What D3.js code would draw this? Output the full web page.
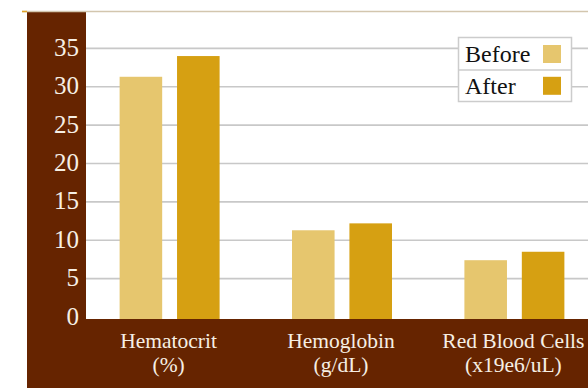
<!DOCTYPE html>
<html>
<head>
<meta charset="utf-8">
<script src="https://cdn.jsdelivr.net/npm/d3@7"></script>
<style>
  html, body { margin: 0; padding: 0; background: #fff; }
  svg { display: block; }
</style>
</head>
<body>
<svg id="chart" width="588" height="388"></svg>
<script>
const categories = ["Hematocrit", "Hemoglobin", "Red Blood Cells"];
const categoryUnits = ["(%)", "(g/dL)", "(x19e6/uL)"];
const seriesNames = ["Before", "After"];
const beforeValues = [31.3, 11.3, 7.4];
const afterValues = [34.0, 12.2, 8.5];
const yTicks = [0, 5, 10, 15, 20, 25, 30, 35];

const colors = { Before: "#e6c66e", After: "#d6a012" };
const brown = "#662400";
const font = "'Liberation Serif', 'Times New Roman', serif";

const svg = d3.select("#chart");
const W = 588, H = 388;
const plot = { left: 86, top: 10, right: 588, bottom: 317 };

const y = d3.scaleLinear().domain([0, 40]).range([plot.bottom, plot.top]);
const x0 = d3.scaleBand().domain(categories).range([86, 598])
  .paddingInner(0.42).paddingOuter(0.195);
const x1 = d3.scaleBand().domain(seriesNames).range([0, x0.bandwidth()])
  .paddingInner(0.2586).paddingOuter(0);

// brown frame
svg.append("rect").attr("x", 27).attr("y", 11).attr("width", W - 27).attr("height", H - 11)
  .attr("fill", brown);
// white plot area
svg.append("rect").attr("x", plot.left).attr("y", 11)
  .attr("width", plot.right - plot.left).attr("height", y(0) + 2 - 11)
  .attr("fill", "#ffffff");

// top line
svg.append("line").attr("x1", 22).attr("x2", W).attr("y1", 11.5).attr("y2", 11.5)
  .attr("stroke", "#d3c6ae").attr("stroke-width", 1.5);
svg.append("line").attr("x1", 22).attr("x2", 27).attr("y1", 11.5).attr("y2", 11.5)
  .attr("stroke", "#e0a428").attr("stroke-width", 1.5);

// gridlines
svg.append("g").selectAll("line").data(yTicks.filter(d => d > 0)).join("line")
  .attr("x1", plot.left).attr("x2", plot.right)
  .attr("y1", d => y(d)).attr("y2", d => y(d))
  .attr("stroke", "#c8c8c8").attr("stroke-width", 1.6);

// y tick labels
svg.append("g").selectAll("text").data(yTicks).join("text")
  .attr("x", 79).attr("y", d => y(d) + 7.5)
  .attr("text-anchor", "end")
  .attr("font-family", font).attr("font-size", 25)
  .attr("fill", "#f6efe4")
  .text(d => d);

// bars
const data = categories.map((c, i) => ({ cat: c, vals: [
  { key: "Before", value: beforeValues[i] },
  { key: "After", value: afterValues[i] }
]}));

const groups = svg.append("g").selectAll("g").data(data).join("g")
  .attr("transform", d => `translate(${x0(d.cat)},0)`);
groups.selectAll("rect").data(d => d.vals).join("rect")
  .attr("x", d => x1(d.key))
  .attr("y", d => y(d.value))
  .attr("width", x1.bandwidth())
  .attr("height", d => y(0) + 2 - y(d.value))
  .attr("fill", d => colors[d.key]);

// x labels (two lines each)
const labelX = d => x0(d) + x0.bandwidth() / 2 - 1;
svg.append("g").selectAll("text").data(categories).join("text")
  .attr("x", labelX).attr("y", 348)
  .attr("text-anchor", "middle")
  .attr("font-family", font).attr("font-size", 21.5)
  .attr("fill", "#f6efe4")
  .text(d => d);
svg.append("g").selectAll("text").data(categories).join("text")
  .attr("x", labelX).attr("y", 372)
  .attr("text-anchor", "middle")
  .attr("font-family", font).attr("font-size", 21.5)
  .attr("fill", "#f6efe4")
  .text((d, i) => categoryUnits[i]);

// legend
const lg = svg.append("g");
lg.append("rect").attr("x", 458.5).attr("y", 37.5).attr("width", 113).attr("height", 64)
  .attr("fill", "#fff").attr("stroke", "#cccccc").attr("stroke-width", 1.5);
lg.append("line").attr("x1", 458.5).attr("x2", 571.5).attr("y1", 70).attr("y2", 70)
  .attr("stroke", "#cccccc").attr("stroke-width", 1.5);
seriesNames.forEach((s, i) => {
  lg.append("text").attr("x", 465).attr("y", 62 + i * 31.5)
    .attr("font-family", font).attr("font-size", 24).attr("fill", "#111")
    .text(s);
  lg.append("rect").attr("x", 543).attr("y", 45 + i * 31.8).attr("width", 18).attr("height", 18)
    .attr("fill", colors[s]);
});
</script>
</body>
</html>
